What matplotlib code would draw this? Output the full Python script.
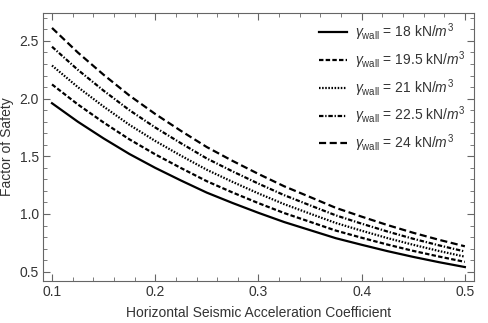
import matplotlib
matplotlib.use("Agg")
import matplotlib.pyplot as plt
from matplotlib.ticker import MultipleLocator

plt.rcParams['font.family'] = ['Liberation Sans', 'DejaVu Sans']
plt.rcParams['mathtext.fontset'] = 'custom'
plt.rcParams['mathtext.rm'] = 'Liberation Sans'
plt.rcParams['mathtext.it'] = 'Liberation Sans:italic'

kh = [0.1, 0.125, 0.15, 0.175, 0.2, 0.225, 0.25, 0.275, 0.3,
      0.325, 0.35, 0.375, 0.4, 0.425, 0.45, 0.475, 0.5]
fs_18 = [1.96, 1.80, 1.655, 1.52, 1.40, 1.29, 1.185, 1.095, 1.01,
         0.93, 0.86, 0.79, 0.733, 0.678, 0.628, 0.582, 0.54]
fs_19_5 = [2.123, 1.950, 1.793, 1.647, 1.517, 1.398, 1.284, 1.186, 1.094,
           1.008, 0.932, 0.856, 0.794, 0.735, 0.680, 0.631, 0.585]
fs_21 = [2.287, 2.100, 1.931, 1.773, 1.633, 1.505, 1.383, 1.278, 1.178,
         1.085, 1.003, 0.922, 0.855, 0.791, 0.733, 0.679, 0.63]
fs_22_5 = [2.45, 2.25, 2.069, 1.90, 1.75, 1.613, 1.481, 1.369, 1.263,
           1.163, 1.075, 0.988, 0.916, 0.848, 0.785, 0.728, 0.675]
fs_24 = [2.613, 2.40, 2.207, 2.027, 1.867, 1.72, 1.58, 1.46, 1.347,
         1.24, 1.147, 1.053, 0.977, 0.904, 0.837, 0.776, 0.72]
labels = [r'$\gamma_{\mathrm{wall}}$ = 18 kN/$m^3$',
          r'$\gamma_{\mathrm{wall}}$ = 19.5 kN/$m^3$',
          r'$\gamma_{\mathrm{wall}}$ = 21 kN/$m^3$',
          r'$\gamma_{\mathrm{wall}}$ = 22.5 kN/$m^3$',
          r'$\gamma_{\mathrm{wall}}$ = 24 kN/$m^3$']

series = [fs_18, fs_19_5, fs_21, fs_22_5, fs_24]
styles = ['-', (0, (2.0, 1.0)), (0, (0.7, 0.7)), (0, (2.0, 0.8, 0.6, 0.8)), (0, (3.2, 1.6))]

fig = plt.figure(figsize=(4.89, 3.23), dpi=100)
ax = fig.add_axes([0.088, 0.130, 0.881, 0.830])
for ys, ls, lab in zip(series, styles, labels):
    ax.plot(kh, ys, color='black', lw=1.6, linestyle=ls, label=lab)

ax.set_xlim(0.0913, 0.5087)
ax.set_ylim(0.419, 2.743)
ax.xaxis.set_major_locator(MultipleLocator(0.1))
ax.xaxis.set_minor_locator(MultipleLocator(0.02))
ax.yaxis.set_major_locator(MultipleLocator(0.5))
ax.yaxis.set_minor_locator(MultipleLocator(0.1))
ax.tick_params(which='both', direction='in', top=True, right=True,
               labeltop=False, labelright=False, color='#666666')
ax.tick_params(which='major', length=5, width=0.8, labelsize=10, labelcolor='#333333', pad=3)
ax.tick_params(which='minor', length=2.8, width=0.6)
for sp in ax.spines.values():
    sp.set_color('#666666')
    sp.set_linewidth(0.8)

ax.set_xlabel('Horizontal Seismic Acceleration Coefficient', fontsize=10, color='#333333', labelpad=5)
ax.set_ylabel('Factor of Safety', fontsize=10, color='#333333', labelpad=4)

leg = ax.legend(loc='upper right', frameon=False, fontsize=10, handlelength=2.0,
                labelspacing=0.45, handletextpad=0.6, borderaxespad=0.2)
for t in leg.get_texts():
    t.set_color('#333333')

fig.savefig('out.png', dpi=100)
